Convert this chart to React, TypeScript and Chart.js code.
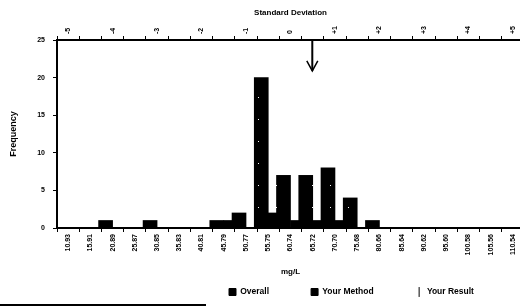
import React, { useEffect, useRef } from 'react';
import { Chart, registerables } from 'chart.js';

Chart.register(...registerables);

// ---- data ----
const categories = ['10.93', '15.91', '20.89', '25.87', '30.85', '35.83', '40.81', '45.79', '50.77', '55.75', '60.74', '65.72', '70.70', '75.68', '80.66', '85.64', '90.62', '95.60', '100.58', '105.56', '110.54'];
const overallCounts = [0, 0, 1, 0, 1, 0, 0, 1, 2, 20, 7, 7, 8, 4, 1, 0, 0, 0, 0, 0, 0];
const yourMethodCounts = [0, 0, 0, 0, 0, 0, 0, 1, 0, 2, 1, 1, 1, 0, 0, 0, 0, 0, 0, 0, 0];
const yourResultSD = 0.49;
const frequencyTicks = [0, 5, 10, 15, 20, 25];
const sdTicks = [-5, -4, -3, -2, -1, 0, 1, 2, 3, 4, 5];
const legendOrder = ['Overall', 'Your Method', 'Your Result'];

// ---- style constants ----
const SD_PER_CATEGORY = 0.5;
const SD_HALF_RANGE = (categories.length * SD_PER_CATEGORY) / 2;
const Y_MAX = frequencyTicks[frequencyTicks.length - 1];
const ARROW_DEPTH = 4.1; // in frequency units
const FONT = "'Liberation Sans', Arial, sans-serif";
const LEGEND_START_X = 229;
const LEGEND_CENTER_Y = 292;
const LEGEND_PAD = 42;
const LEGEND_FONT = 8.5;
const TICK_FONT = 7;

Chart.defaults.font.family = FONT;
Chart.defaults.color = '#000';

function makePattern(ctx: CanvasRenderingContext2D) {
  const c = document.createElement('canvas');
  c.width = 18;
  c.height = 22;
  const g = c.getContext('2d')!;
  g.fillStyle = '#000';
  g.fillRect(0, 0, c.width, c.height);
  g.fillStyle = '#fff';
  g.fillRect(6, 9, 1, 1);
  return ctx.createPattern(c, 'repeat')!;
}

const legendPlacer = {
  id: 'legendPlacer',
  afterLayout(chart: any) {
    const lg = chart.legend;
    if (!lg) return;
    lg.left = LEGEND_START_X - LEGEND_PAD;
    lg.right = lg.left + 800;
    lg.top = LEGEND_CENTER_Y - LEGEND_PAD - LEGEND_FONT / 2;
    lg.bottom = chart.height;
  },
};

const arrowHead = {
  id: 'arrowHead',
  afterDatasetsDraw(chart: any) {
    const idx = chart.data.datasets.findIndex((d: any) => d.label === 'Your Result');
    if (idx < 0) return;
    const pts = chart.getDatasetMeta(idx).data;
    const tip = pts[pts.length - 1];
    if (!tip) return;
    const ctx = chart.ctx;
    ctx.save();
    ctx.strokeStyle = '#000';
    ctx.lineWidth = 1.5;
    ctx.beginPath();
    ctx.moveTo(tip.x - 5.5, tip.y - 10);
    ctx.lineTo(tip.x, tip.y);
    ctx.lineTo(tip.x + 5.5, tip.y - 10);
    ctx.stroke();
    ctx.restore();
  },
};

export default function App() {
  const ref = useRef<HTMLCanvasElement>(null);

  useEffect(() => {
    document.body.style.margin = '0';
    const canvas = ref.current!;
    const ctx = canvas.getContext('2d')!;
    const pattern = makePattern(ctx);

    const chart = new Chart(ctx, {
      type: 'bar',
      data: {
        labels: categories,
        datasets: [
          {
            type: 'line',
            label: 'Your Result',
            data: [
              { x: yourResultSD, y: Y_MAX },
              { x: yourResultSD, y: Y_MAX - ARROW_DEPTH },
            ],
            borderColor: '#000',
            backgroundColor: '#000',
            borderWidth: 2,
            pointRadius: 0,
            xAxisID: 'sd',
            yAxisID: 'y',
          } as any,
          {
            label: 'Overall',
            data: overallCounts,
            backgroundColor: pattern as any,
            borderColor: '#000',
            borderWidth: 0,
            barThickness: 14,
            xAxisID: 'x',
            yAxisID: 'y',
          },
          {
            label: 'Your Method',
            data: yourMethodCounts,
            backgroundColor: '#000',
            borderColor: '#000',
            borderWidth: 0,
            barThickness: 9,
            xAxisID: 'x',
            yAxisID: 'y',
          },
        ],
      },
      options: {
        responsive: false,
        animation: false,
        layout: { padding: 0 },
        plugins: {
          tooltip: { enabled: false },
          legend: {
            position: 'bottom',
            align: 'start',
            maxHeight: 26,
            labels: {
              usePointStyle: true,
              boxWidth: 7,
              boxHeight: 7,
              padding: LEGEND_PAD,
              color: '#000',
              font: { size: LEGEND_FONT, weight: 'bold' },
              sort: (a: any, b: any) => legendOrder.indexOf(a.text) - legendOrder.indexOf(b.text),
              generateLabels: (ch: any) => {
                const base = (Chart.defaults.plugins.legend.labels as any).generateLabels(ch);
                return base.map((item: any) => {
                  const ds: any = ch.data.datasets[item.datasetIndex];
                  const isLine = ds.type === 'line';
                  return {
                    ...item,
                    pointStyle: isLine ? 'line' : 'rect',
                    rotation: isLine ? 90 : 0,
                    lineWidth: 1,
                    strokeStyle: '#000',
                    fillStyle: isLine ? '#000' : item.fillStyle,
                  };
                });
              },
            },
          } as any,
        },
        scales: {
          x: {
            type: 'category',
            position: 'bottom',
            offset: true,
            grid: { offset: true, drawOnChartArea: false, tickLength: 4, color: '#000', lineWidth: 1 },
            border: { color: '#000', width: 2 },
            ticks: {
              autoSkip: false,
              minRotation: 90,
              maxRotation: 90,
              padding: 2,
              color: '#000',
              font: { size: TICK_FONT, weight: 'bold' },
            },
            title: {
              display: true,
              text: 'mg/L',
              color: '#000',
              font: { size: 8, weight: 'bold' },
              padding: { top: 0, bottom: 3 },
            },
            afterFit: (s: any) => {
              s.height = 52;
            },
          },
          xTop: {
            type: 'category',
            position: 'top',
            labels: categories,
            offset: true,
            weight: 0,
            grid: { offset: true, drawOnChartArea: false, tickLength: 4, color: '#000', lineWidth: 1 },
            border: { color: '#000', width: 2 },
            ticks: { display: false },
            afterFit: (s: any) => {
              s.height = 4;
            },
          },
          sd: {
            type: 'linear',
            position: 'top',
            min: -SD_HALF_RANGE,
            max: SD_HALF_RANGE,
            offset: false,
            weight: 1,
            grid: { display: false, drawTicks: false, offset: false },
            border: { display: false },
            afterBuildTicks: (s: any) => {
              s.ticks = sdTicks.map((v) => ({ value: v }));
            },
            ticks: {
              minRotation: 90,
              maxRotation: 90,
              padding: 2,
              labelOffset: TICK_FONT * 1.2,
              color: '#000',
              font: { size: TICK_FONT, weight: 'bold' },
              callback: (v: any) => (Number(v) > 0 ? `+${v}` : `${v}`),
            },
            title: {
              display: true,
              text: 'Standard Deviation',
              color: '#000',
              font: { size: 8, weight: 'bold' },
              padding: { top: 8, bottom: 0 },
            },
            afterFit: (s: any) => {
              s.height = 36;
            },
          },
          y: {
            type: 'linear',
            position: 'left',
            min: 0,
            max: Y_MAX,
            afterBuildTicks: (s: any) => {
              s.ticks = frequencyTicks.map((v) => ({ value: v }));
            },
            grid: { drawOnChartArea: false, tickLength: 4, color: '#000' },
            border: { color: '#000', width: 2 },
            ticks: { padding: 8, color: '#000', font: { size: TICK_FONT, weight: 'bold' } },
            title: {
              display: true,
              text: 'Frequency',
              color: '#000',
              font: { size: 9, weight: 'bold' },
              padding: { top: 8, bottom: 0 },
            },
            afterFit: (s: any) => {
              s.width = 57;
            },
          },
        } as any,
      },
      plugins: [legendPlacer, arrowHead],
    });

    return () => chart.destroy();
  }, []);

  return (
    <div style={{ position: 'fixed', left: 0, top: 0, width: 520, height: 306, overflow: 'hidden', background: '#fff' }}>
      <canvas ref={ref} width={524} height={306} style={{ position: 'absolute', left: 0, top: 0, width: 524, height: 306 }} />
      <div style={{ position: 'absolute', left: 0, top: 304, width: 206, height: 2, background: '#000' }} />
    </div>
  );
}
